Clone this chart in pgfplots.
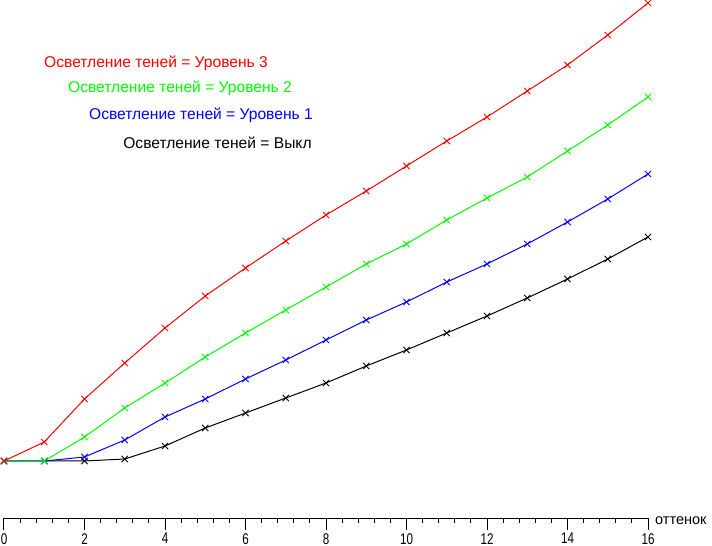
\documentclass[border=0pt]{standalone}
\usepackage{fontspec}
\setmainfont{Liberation Sans}
\usepackage{graphicx}
\usepackage{pgfplots}
\pgfplotsset{compat=1.18}
\newcommand{\nd}[1]{\scalebox{0.75}[1]{#1}}
\pgfplotstableread{
x red green blue black
0 0 0 0 0
1 19 0 0 0
2 62 24 4 0
3 98 53 21 2
4 133 78 44 15
5 165 104 62 33
6 193 128 82 48
7 220 151 101 63
8 246 174 121 78
9 270 197 141 95
10 295 217 159 111
11 320 241 179 128
12 344 263 197 145
13 370 284 217 163
14 396 310 239 182
15 426 336 262 202
16 458 364 287 224
}\datatable
\begin{document}
\begin{tikzpicture}
\begin{axis}[
  scale only axis, width=644pt, height=518pt,
  xmin=0, xmax=16, ymin=-57, ymax=461,
  axis x line*=bottom, axis y line=none,
  x axis line style={-, line width=1pt},
  xtick={0,2,...,16},
  xticklabels={\nd{0},\nd{2},\nd{4},\nd{6},\nd{8},\nd{10},\nd{12},\nd{14},\nd{16}},
  minor x tick num=4,
  tick align=outside, major tick length=12pt, minor tick length=5pt,
  every tick/.style={black, line width=1pt},
  xticklabel style={font=\fontsize{15.5}{17}\selectfont, inner sep=0pt, yshift=-3pt},
  clip=false,
  every axis plot/.append style={line width=1pt, mark=x, mark size=4.5pt, mark options={line width=0.8pt}},
]
\addplot[color=black] table[x=x,y=black] {\datatable};
\addplot[color={rgb,255:red,0;green,0;blue,255}] table[x=x,y=blue] {\datatable};
\addplot[color={rgb,255:red,0;green,255;blue,0}] table[x=x,y=green] {\datatable};
\addplot[color={rgb,255:red,255;green,0;blue,0}] table[x=x,y=red] {\datatable};
\node[anchor=west, inner sep=0pt, font=\fontsize{15.6}{17}\selectfont, text={rgb,255:red,255;green,0;blue,0}] at (axis cs:0.994,398) {Осветление теней = Уровень 3};
\node[anchor=west, inner sep=0pt, font=\fontsize{15.6}{17}\selectfont, text={rgb,255:red,0;green,255;blue,0}] at (axis cs:1.59,373) {Осветление теней = Уровень 2};
\node[anchor=west, inner sep=0pt, font=\fontsize{15.6}{17}\selectfont, text={rgb,255:red,0;green,0;blue,255}] at (axis cs:2.11,346) {Осветление теней = Уровень 1};
\node[anchor=west, inner sep=0pt, font=\fontsize{15.6}{17}\selectfont, text=black] at (axis cs:2.96,318) {Осветление теней = Выкл};
\node[anchor=base west, inner sep=0pt, font=\fontsize{14.5}{16}\selectfont] at ([xshift=7pt,yshift=-6pt]axis cs:16,-57) {оттенок};
\coordinate (org) at (axis cs:0,-57);
\end{axis}
\pgfresetboundingbox
\path[use as bounding box] ([xshift=-4pt,yshift=-28pt]org) rectangle ([xshift=708pt,yshift=518pt]org);
\end{tikzpicture}
\end{document}
